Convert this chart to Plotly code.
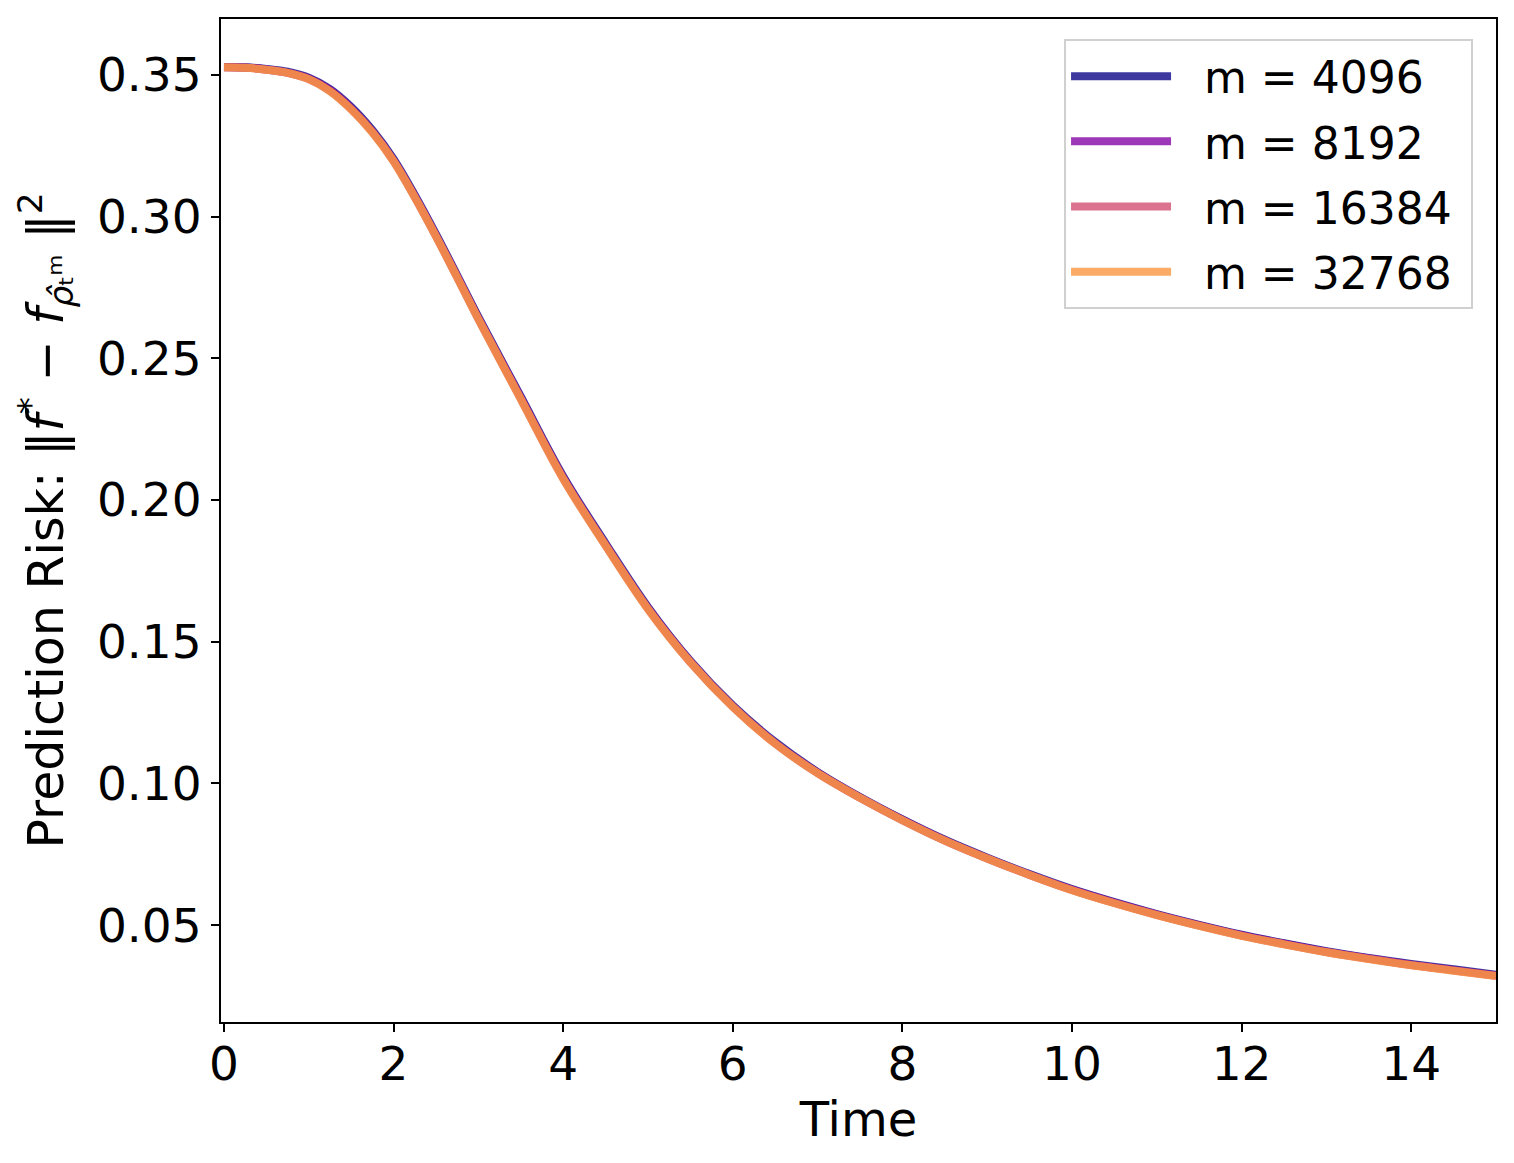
import plotly.graph_objects as go

time = [0, 0.25, 0.5, 0.75, 1.0, 1.25, 1.5, 1.75, 2.0, 2.25, 2.5, 2.75, 3.0, 3.5,
        4.0, 4.5, 5.0, 5.5, 6.0, 6.5, 7.0, 7.5, 8.0, 8.5, 9.0, 9.5, 10.0, 10.5,
        11.0, 11.5, 12.0, 12.5, 13.0, 13.5, 14.0, 14.5, 15.0]

risk_4096 = [0.3528, 0.3527, 0.3521, 0.3511, 0.3490, 0.3450, 0.3387, 0.3305, 0.3203,
             0.3076, 0.2938, 0.2793, 0.2646, 0.2365, 0.2084, 0.1847, 0.1622, 0.1432,
             0.1275, 0.1146, 0.1040, 0.0952, 0.0873, 0.0801, 0.0738, 0.0680, 0.0627,
             0.0581, 0.0539, 0.0501, 0.0466, 0.0436, 0.0408, 0.0384, 0.0363, 0.0344,
             0.0325]
risk_8192 = [0.3527, 0.3526, 0.3519, 0.3508, 0.3487, 0.3446, 0.3382, 0.3300, 0.3198,
             0.3071, 0.2933, 0.2788, 0.2641, 0.2360, 0.2079, 0.1842, 0.1618, 0.1429,
             0.1272, 0.1142, 0.1038, 0.0950, 0.0871, 0.0799, 0.0736, 0.0678, 0.0625,
             0.0579, 0.0537, 0.0499, 0.0464, 0.0434, 0.0406, 0.0382, 0.0360, 0.0341,
             0.0322]
risk_16384 = [0.3527, 0.3525, 0.3518, 0.3507, 0.3485, 0.3443, 0.3379, 0.3298, 0.3196,
              0.3069, 0.2931, 0.2786, 0.2639, 0.2357, 0.2076, 0.1840, 0.1616, 0.1428,
              0.1271, 0.1141, 0.1036, 0.0949, 0.0870, 0.0798, 0.0735, 0.0677, 0.0624,
              0.0578, 0.0536, 0.0498, 0.0463, 0.0433, 0.0405, 0.0381, 0.0359, 0.0340,
              0.0321]
risk_32768 = [0.3527, 0.3525, 0.3518, 0.3507, 0.3485, 0.3442, 0.3378, 0.3297, 0.3195,
              0.3068, 0.2930, 0.2785, 0.2638, 0.2356, 0.2075, 0.1839, 0.1615, 0.1427,
              0.1270, 0.1140, 0.1036, 0.0949, 0.0870, 0.0798, 0.0735, 0.0677, 0.0623,
              0.0577, 0.0535, 0.0497, 0.0462, 0.0432, 0.0404, 0.0380, 0.0358, 0.0339,
              0.0320]

labels = ["m = 4096", "m = 8192", "m = 16384", "m = 32768"]
series = [risk_4096, risk_8192, risk_16384, risk_32768]
colors = ["rgba(13,8,135,0.8)", "rgba(133,6,166,0.8)",
          "rgba(210,80,114,0.8)", "rgba(250,150,64,0.8)"]

NB = "\u00a0"
fig = go.Figure()
for i, (lab, ys, col) in enumerate(zip(labels, series, colors)):
    fig.add_trace(go.Scatter(
        x=time, y=ys, mode="lines", name=NB * 2 + lab + NB, legendgroup=f"g{i}",
        line=dict(color=col, width=8, shape="spline", smoothing=1.0),
    ))

font = "DejaVu Sans, Verdana, sans-serif"
ytitle = ("Prediction Risk: ‖<i>f</i><sup>*</sup>" + NB + "−" + NB
          + "<i>f</i><sub><i>ρ̂</i>ₜᵐ</sub>" + NB + "‖<sup>2</sup>")
# the page body adds an 8 px offset, compensated in the margins
fig.update_layout(
    width=1514, height=1163,
    margin=dict(l=213, r=26, t=9, b=149),
    paper_bgcolor="white", plot_bgcolor="white",
    font=dict(family=font, color="black"),
    showlegend=True,
    legend=dict(
        x=0.982, y=0.980, xanchor="right", yanchor="top",
        bgcolor="rgba(255,255,255,0.8)", bordercolor="#d0d0d0", borderwidth=2,
        font=dict(size=44, family=font, color="black"),
        tracegroupgap=5, itemwidth=100,
    ),
    xaxis=dict(
        range=[-0.035, 15.0], tickvals=[0, 2, 4, 6, 8, 10, 12, 14],
        ticks="outside", ticklen=8, tickwidth=2, tickcolor="black",
        showline=True, linecolor="black", linewidth=2, mirror=True,
        showgrid=False, zeroline=False, ticklabelstandoff=-8,
        tickfont=dict(size=47, family=font),
        title=dict(text="Time", font=dict(size=48, family=font), standoff=2),
    ),
    yaxis=dict(
        range=[0.0158, 0.3697], tickvals=[0.05, 0.10, 0.15, 0.20, 0.25, 0.30, 0.35],
        ticktext=["0.05", "0.10", "0.15", "0.20", "0.25", "0.30", "0.35"],
        ticks="outside", ticklen=8, tickwidth=2, tickcolor="black",
        showline=True, linecolor="black", linewidth=2, mirror=True,
        showgrid=False, zeroline=False,
        tickfont=dict(size=47, family=font),
        title=dict(text=ytitle, font=dict(size=49, family=font), standoff=18),
    ),
)

fig.write_html("out.html")
